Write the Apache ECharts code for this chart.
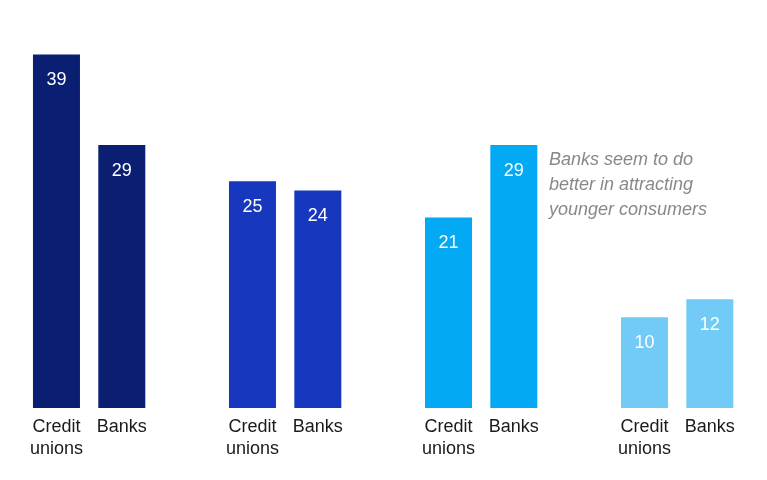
<!DOCTYPE html>
<html>
<head>
<script src="https://cdn.jsdelivr.net/npm/echarts@6/dist/echarts.min.js"></script>
<style>html,body{margin:0;padding:0;background:#fff}#main{width:767px;height:480px}</style>
</head>
<body>
<div id="main"></div>
<script>
  // categories, with empty slots as gaps between groups
  var categories = ['Credit\nunions', 'Banks', '', 'Credit\nunions', 'Banks', '', 'Credit\nunions', 'Banks', '', 'Credit\nunions', 'Banks'];
  var values = [39, 29, null, 25, 24, null, 21, 29, null, 10, 12];
  var groupColors = ['#0a1f72', '#1737bf', '#03a9f2', '#71cbf6'];
  var note = 'Banks seem to do\nbetter in attracting\nyounger consumers';

  var chart = echarts.init(document.getElementById('main'));
  chart.setOption({
    animation: false,
    grid: { left: 23.8, right: 767 - 23.8 - 718.7, top: 0, bottom: 72 },
    xAxis: {
      type: 'category',
      data: categories,
      axisLine: { show: false },
      axisTick: { show: false },
      axisLabel: { color: '#1a1a1a', fontSize: 18, fontFamily: 'Liberation Sans', lineHeight: 22, margin: 8, interval: 0 }
    },
    yAxis: { type: 'value', min: 0, max: 45, show: false, splitLine: { show: false } },
    series: [{
      type: 'bar',
      barWidth: 47,
      data: values.map(function (v, i) {
        return { value: v, itemStyle: { color: groupColors[Math.floor(i / 3)] } };
      }),
      label: {
        show: true, position: 'insideTop', distance: 10,
        color: '#fff', fontSize: 18, fontFamily: 'Liberation Sans'
      }
    }],
    graphic: [{
      type: 'text', left: 549, top: 144,
      style: { text: note, fill: '#888', fontSize: 18, fontStyle: 'italic', fontFamily: 'Liberation Sans', lineHeight: 25 }
    }]
  });
</script>
</body>
</html>
